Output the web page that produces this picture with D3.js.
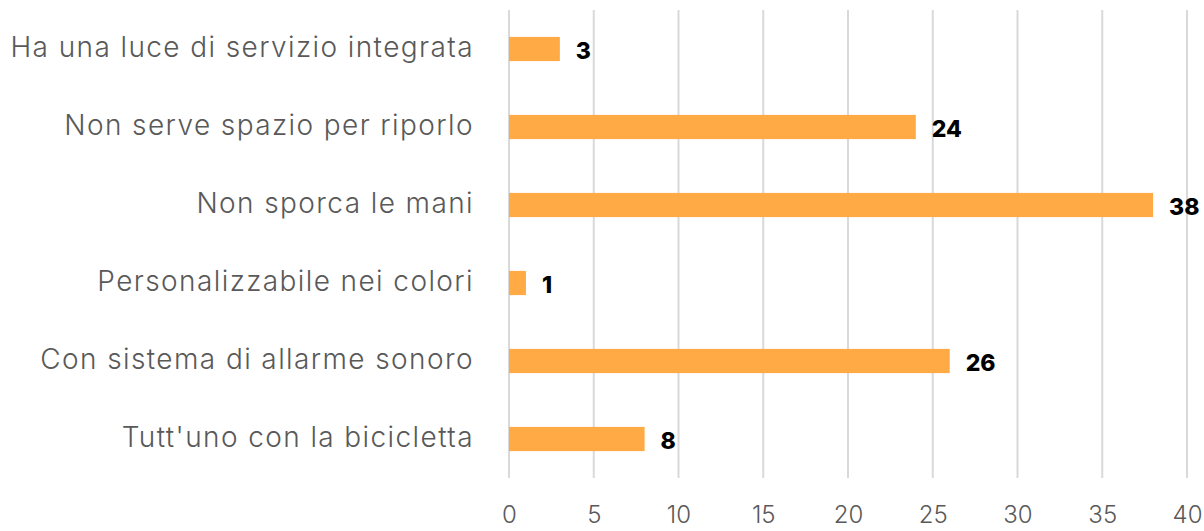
<!DOCTYPE html>
<meta charset="utf-8">
<style>
body { margin: 0; background: #fff; }
.cat { font: 300 28px "Inter", "Open Sans", sans-serif; fill: #595959; letter-spacing: 1.4px; }
.tick text { font: 300 24px "Inter", "Open Sans", sans-serif; fill: #595959; }
.val { font: 800 23px "Inter", "Open Sans", sans-serif; fill: #000; }
</style>
<body>
<script src="https://d3js.org/d3.v7.min.js"></script>
<script>

var categories = [
  "Ha una luce di servizio integrata",
  "Non serve spazio per riporlo",
  "Non sporca le mani",
  "Personalizzabile nei colori",
  "Con sistema di allarme sonoro",
  "Tutt'uno con la bicicletta"
];
var values = [3, 24, 38, 1, 26, 8];
var ticks = [0, 5, 10, 15, 20, 25, 30, 35, 40];

var width = 1204, height = 531;
var margin = {top: 10, right: 17, bottom: 53, left: 509};

var svg = d3.select("body").append("svg")
    .attr("width", width)
    .attr("height", height);

var x = d3.scaleLinear()
    .domain([0, 40])
    .range([margin.left, width - margin.right]);

var y = d3.scaleBand()
    .domain(categories)
    .range([margin.top, height - margin.bottom])
    .paddingInner(0.69)
    .paddingOuter(0.345);

// gridlines
svg.append("g").selectAll("line")
    .data(ticks)
  .enter().append("line")
    .attr("x1", function(d) { return x(d); })
    .attr("x2", function(d) { return x(d); })
    .attr("y1", margin.top)
    .attr("y2", height - margin.bottom)
    .attr("stroke", "#d9d9d9")
    .attr("stroke-width", 2);

var xAxis = d3.axisBottom(x).tickValues(ticks).tickSize(0).tickPadding(0);
var gx = svg.append("g")
    .attr("transform", "translate(0," + (height - margin.bottom) + ")")
    .call(xAxis);
gx.select(".domain").remove();
gx.selectAll(".tick text").attr("dy", null).attr("y", 45);

svg.append("g").selectAll("rect")
    .data(values)
  .enter().append("rect")
    .attr("x", x(0))
    .attr("y", function(d, i) { return y(categories[i]); })
    .attr("width", function(d) { return x(d) - x(0); })
    .attr("height", y.bandwidth())
    .attr("fill", "#ffaa44");

svg.append("g").selectAll("text")
    .data(values)
  .enter().append("text")
    .attr("class", "val")
    .attr("x", function(d) { return x(d) + 16; })
    .attr("y", function(d, i) { return y(categories[i]) + y.bandwidth() / 2; })
    .attr("dy", "0.42em")
    .text(function(d) { return d; });

svg.append("g").selectAll("text")
    .data(categories)
  .enter().append("text")
    .attr("class", "cat")
    .attr("x", 474)
    .attr("y", function(d) { return y(d) + y.bandwidth() / 2; })
    .attr("dy", "0.3em")
    .attr("text-anchor", "end")
    .text(function(d) { return d; });

</script>
</body>
